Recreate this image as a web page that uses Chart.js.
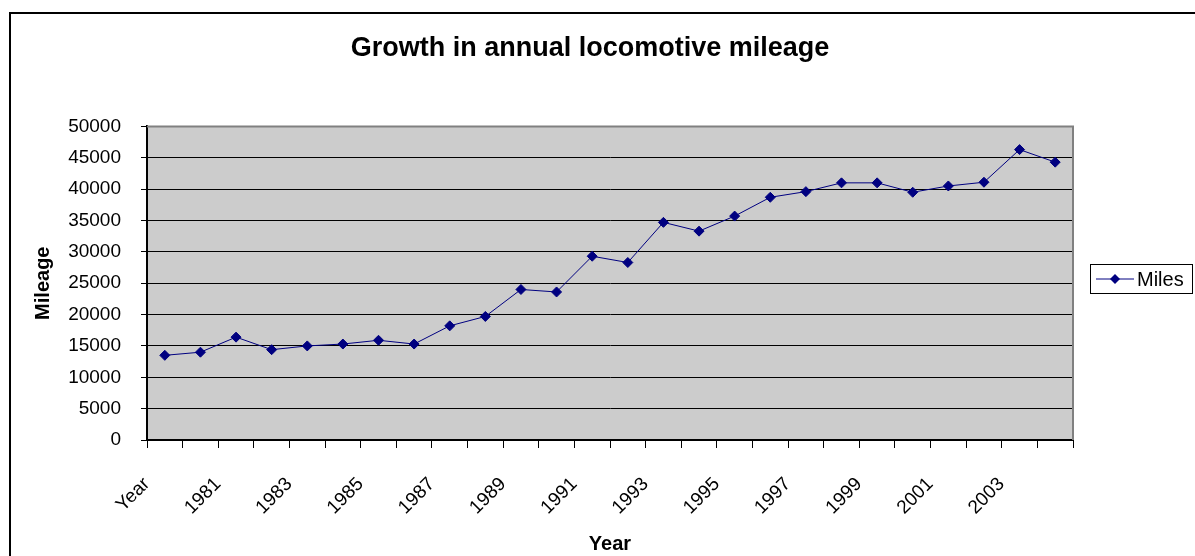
<!DOCTYPE html>
<html>
<head>
<meta charset="utf-8">
<script src="https://cdn.jsdelivr.net/npm/chart.js@4"></script>
<style>
  html, body { margin: 0; padding: 0; background: #fff; }
  #wrap { width: 1195px; height: 556px; }
</style>
</head>
<body>
<div id="wrap"><canvas id="mileChart" width="1195" height="556"></canvas></div>
<script>
// data
var years = ["Year", "1980", "1981", "1982", "1983", "1984", "1985", "1986", "1987", "1988",
  "1989", "1990", "1991", "1992", "1993", "1994", "1995", "1996", "1997", "1998",
  "1999", "2000", "2001", "2002", "2003", "2004"];
var miles = [13500, 14000, 16400, 14400, 15000, 15300, 15900, 15300, 18200, 19700,
  24000, 23600, 29300, 28300, 34700, 33300, 35700, 38700, 39600, 41000,
  41000, 39500, 40500, 41100, 46300, 44300];
var yTicks = [0, 5000, 10000, 15000, 20000, 25000, 30000, 35000, 40000, 45000, 50000];

var navy = "#000080";
var fontName = "'Liberation Sans', Arial, sans-serif";

// plot area background + grey border (top/right) + outer frame
var backdrop = {
  id: "backdrop",
  beforeDraw: function (chart) {
    var ctx = chart.ctx, a = chart.chartArea;
    ctx.save();
    ctx.fillStyle = "#cccccc";
    ctx.fillRect(a.left, a.top, a.right - a.left, a.bottom - a.top);
    ctx.strokeStyle = "#000";
    ctx.lineWidth = 2;
    ctx.strokeRect(10, 13, 1200, 600);
    ctx.restore();
  },
  afterDraw: function (chart) {
    var ctx = chart.ctx, a = chart.chartArea;
    ctx.save();
    ctx.strokeStyle = "#808080";
    ctx.lineWidth = 2;
    ctx.beginPath();
    ctx.moveTo(a.left, a.top);
    ctx.lineTo(a.right, a.top);
    ctx.lineTo(a.right, a.bottom);
    ctx.stroke();
    ctx.restore();
  }
};

// Excel style legend box on the right
var sideLegend = {
  id: "sideLegend",
  afterDraw: function (chart) {
    var ctx = chart.ctx;
    var ds = chart.data.datasets[0];
    var x = 1090, y = 264, w = 102, h = 29;
    ctx.save();
    ctx.fillStyle = "#fff";
    ctx.fillRect(x, y, w, h);
    ctx.strokeStyle = "#000";
    ctx.lineWidth = 1;
    ctx.strokeRect(x + 0.5, y + 0.5, w, h);
    var my = y + h / 2 + 0.5;
    ctx.strokeStyle = ds.borderColor;
    ctx.beginPath();
    ctx.moveTo(x + 6, my);
    ctx.lineTo(x + 44, my);
    ctx.stroke();
    ctx.fillStyle = ds.pointBackgroundColor;
    ctx.beginPath();
    ctx.moveTo(x + 25, my - 5);
    ctx.lineTo(x + 30, my);
    ctx.lineTo(x + 25, my + 5);
    ctx.lineTo(x + 20, my);
    ctx.closePath();
    ctx.fill();
    ctx.fillStyle = "#000";
    ctx.font = "20px " + fontName;
    ctx.textBaseline = "middle";
    ctx.fillText(ds.label, x + 47, my + 1);
    ctx.restore();
  }
};

new Chart("mileChart", {
  type: "line",
  data: {
    labels: years,
    datasets: [{
      label: "Miles",
      data: miles,
      borderColor: navy,
      borderWidth: 1,
      backgroundColor: navy,
      pointBackgroundColor: navy,
      pointBorderColor: navy,
      pointStyle: "rectRot",
      pointRadius: 5,
      pointBorderWidth: 1,
      tension: 0
    }]
  },
  plugins: [backdrop, sideLegend],
  options: {
    responsive: false,
    animation: false,
    events: [],
    layout: { padding: { left: 0, right: 15, top: 0, bottom: 0 } },
    plugins: {
      legend: { display: false },
      tooltip: { enabled: false },
      title: {
        display: true,
        text: "Growth in annual locomotive mileage",
        color: "#000",
        font: { family: fontName, size: 27, weight: "bold" },
        padding: { top: 32, bottom: 62 }
      }
    },
    scales: {
      x: {
        offset: true,
        grid: {
          offset: true,
          drawOnChartArea: false,
          color: "#000",
          tickLength: 8
        },
        border: { color: "#000", width: 2 },
        ticks: {
          autoSkip: false,
          minRotation: 45,
          maxRotation: 45,
          padding: 25,
          labelOffset: -18,
          color: "#000",
          font: { family: fontName, size: 19 },
          callback: function (v, i) { return i % 2 === 0 ? years[i] : ""; }
        },
        title: {
          display: true,
          text: "Year",
          color: "#000",
          font: { family: fontName, size: 20, weight: "bold" },
          padding: { top: 0, bottom: 0 }
        },
        afterFit: function (s) { s.height = 116; }
      },
      y: {
        min: 0,
        max: 50000,
        afterBuildTicks: function (s) {
          s.ticks = yTicks.map(function (v) { return { value: v }; });
        },
        grid: { color: "#000", tickLength: 6 },
        border: { color: "#000", width: 2 },
        ticks: {
          padding: 20,
          color: "#000",
          font: { family: fontName, size: 19 },
          callback: function (v) { return String(v); }
        },
        title: {
          display: true,
          text: "Mileage",
          color: "#000",
          font: { family: fontName, size: 20, weight: "bold" },
          padding: { top: 31, bottom: 0 }
        },
        afterFit: function (s) { s.width = 147; }
      },
      // empty right-hand strip that holds room for the legend box
      side: {
        type: "linear",
        position: "right",
        grid: { display: false },
        border: { display: false },
        ticks: { display: false },
        afterFit: function (s) { s.width = 107; }
      }
    }
  }
});
</script>
</body>
</html>
